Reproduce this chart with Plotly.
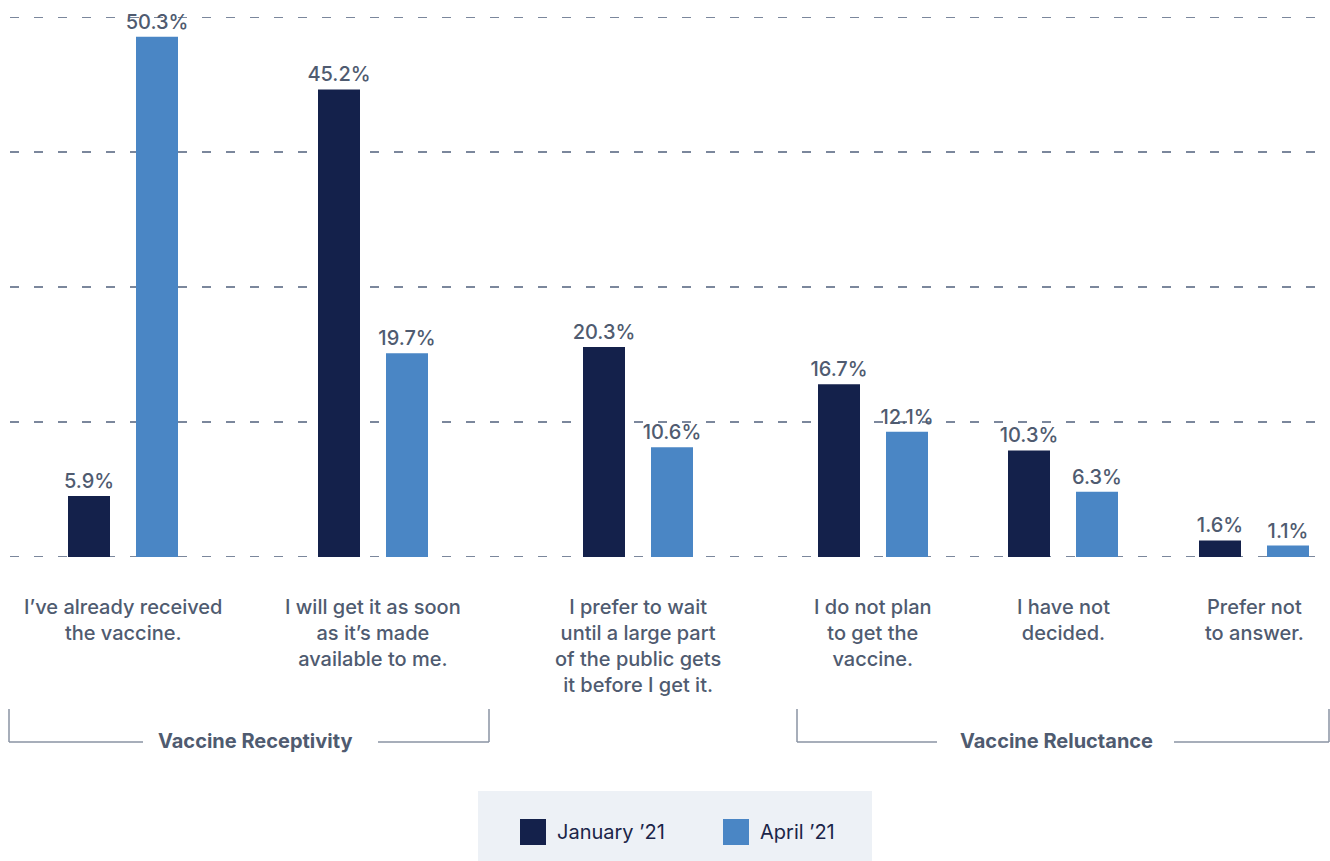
import plotly.graph_objects as go

# ---- data ----
categories = [
    "I’ve already received<br>the vaccine.",
    "I will get it as soon<br>as it’s made<br>available to me.",
    "I prefer to wait<br>until a large part<br>of the public gets<br>it before I get it.",
    "I do not plan<br>to get the<br>vaccine.",
    "I have not<br>decided.",
    "Prefer not<br>to answer.",
]
series_names = ["January ’21", "April ’21"]
jan_values = [5.9, 45.2, 20.3, 16.7, 10.3, 1.6]
apr_values = [50.3, 19.7, 10.6, 12.1, 6.3, 1.1]
group_labels = ["Vaccine Receptivity", "Vaccine Reluctance"]

# ---- layout constants ----
W, H = 1330, 861
PL, PR, PT, PB = 10, 0, 17, 304          # margins
PW, PH = W - PL - PR, H - PT - PB
group_x = [0, 2, 4.12, 6, 7.52, 9.048]   # category positions on numeric axis
X_RANGE = [-0.904, 9.656]
Y_MAX = 52.2
y_ticks = [Y_MAX * i / 4 for i in range(5)]

C_JAN = "#14214b"
C_APR = "#4a86c5"
C_TEXT = "#4f5b70"
C_GRID = "#7b879c"
C_BRACKET = "#8a93a3"
FONT = "Inter"


def px_x(px):
    return (px - PL) / PW


def px_y(py):
    return (PT + PH - py) / PH


fig = go.Figure()
bar_w = 0.336
offsets = [-0.44, 0.104]
for name, vals, col, off in zip(series_names, [jan_values, apr_values], [C_JAN, C_APR], offsets):
    fig.add_trace(go.Bar(
        x=group_x, y=vals, name=name,
        marker=dict(color=col, line=dict(width=0)),
        width=bar_w, offset=off,
        text=[f"{v:.1f}%" for v in vals],
        textposition="outside",
        constraintext="none",
        textfont=dict(family=FONT, size=20, color=C_TEXT, weight=500),
        cliponaxis=False,
        showlegend=False,
        hoverinfo="skip",
    ))

shapes = []
# dashed gridlines
for yv in y_ticks:
    shapes.append(dict(type="line", xref="paper", yref="y", x0=0, x1=1, y0=yv, y1=yv,
                       line=dict(color=C_GRID, width=2, dash="9px,15px"), layer="below"))

annotations = []
for gx, lab in zip(group_x, categories):
    annotations.append(dict(
        x=gx, y=px_y(593), xref="x", yref="paper", text=lab,
        showarrow=False, xanchor="center", yanchor="top", align="center",
        font=dict(family=FONT, size=20, color=C_TEXT, weight=500),
    ))

# brackets
brackets = [(9, 143, 378, 489, 255), (797, 937, 1174, 1329, 1056)]
for (l, lm, rm, r, cx), gl in zip(brackets, group_labels):
    top, bot = px_y(709), px_y(742)
    line = dict(color=C_BRACKET, width=1.5)
    shapes += [
        dict(type="line", xref="paper", yref="paper", x0=px_x(l), x1=px_x(l), y0=top, y1=bot, line=line),
        dict(type="line", xref="paper", yref="paper", x0=px_x(l), x1=px_x(lm), y0=bot, y1=bot, line=line),
        dict(type="line", xref="paper", yref="paper", x0=px_x(rm), x1=px_x(r), y0=bot, y1=bot, line=line),
        dict(type="line", xref="paper", yref="paper", x0=px_x(r), x1=px_x(r), y0=top, y1=bot, line=line),
    ]
    annotations.append(dict(
        x=px_x(cx), y=px_y(741), xref="paper", yref="paper", text=gl,
        showarrow=False, xanchor="center", yanchor="middle",
        font=dict(family=FONT, size=20, color=C_TEXT, weight=700),
    ))

# legend box (hand-built)
shapes.append(dict(type="rect", xref="paper", yref="paper",
                   x0=px_x(478), x1=px_x(872), y0=px_y(791), y1=px_y(861),
                   fillcolor="#edf1f6", line=dict(width=0), layer="below"))
leg_items = [(520, 555), (723, 758)]
for (sq, tx), name, col in zip(leg_items, series_names, [C_JAN, C_APR]):
    shapes.append(dict(type="rect", xref="paper", yref="paper",
                       x0=px_x(sq), x1=px_x(sq + 26), y0=px_y(819), y1=px_y(845),
                       fillcolor=col, line=dict(width=0)))
    annotations.append(dict(
        x=px_x(tx), y=px_y(832), xref="paper", yref="paper", text=name,
        showarrow=False, xanchor="left", yanchor="middle",
        font=dict(family=FONT, size=20, color="#1b2548"),
    ))

fig.update_layout(
    width=W, height=H,
    margin=dict(l=PL, r=PR, t=PT, b=PB, pad=0),
    paper_bgcolor="white", plot_bgcolor="white",
    barmode="overlay",
    xaxis=dict(range=X_RANGE, showgrid=False, zeroline=False, showticklabels=False,
               showline=False, ticks="", fixedrange=True),
    yaxis=dict(range=[0, Y_MAX], showticklabels=False, showgrid=False,
               zeroline=False, showline=False, ticks="", fixedrange=True),
    shapes=shapes, annotations=annotations,
    font=dict(family=FONT),
)

fig.write_html("out.html", config={"displayModeBar": False},
               post_script="document.body.style.margin='0px';")
